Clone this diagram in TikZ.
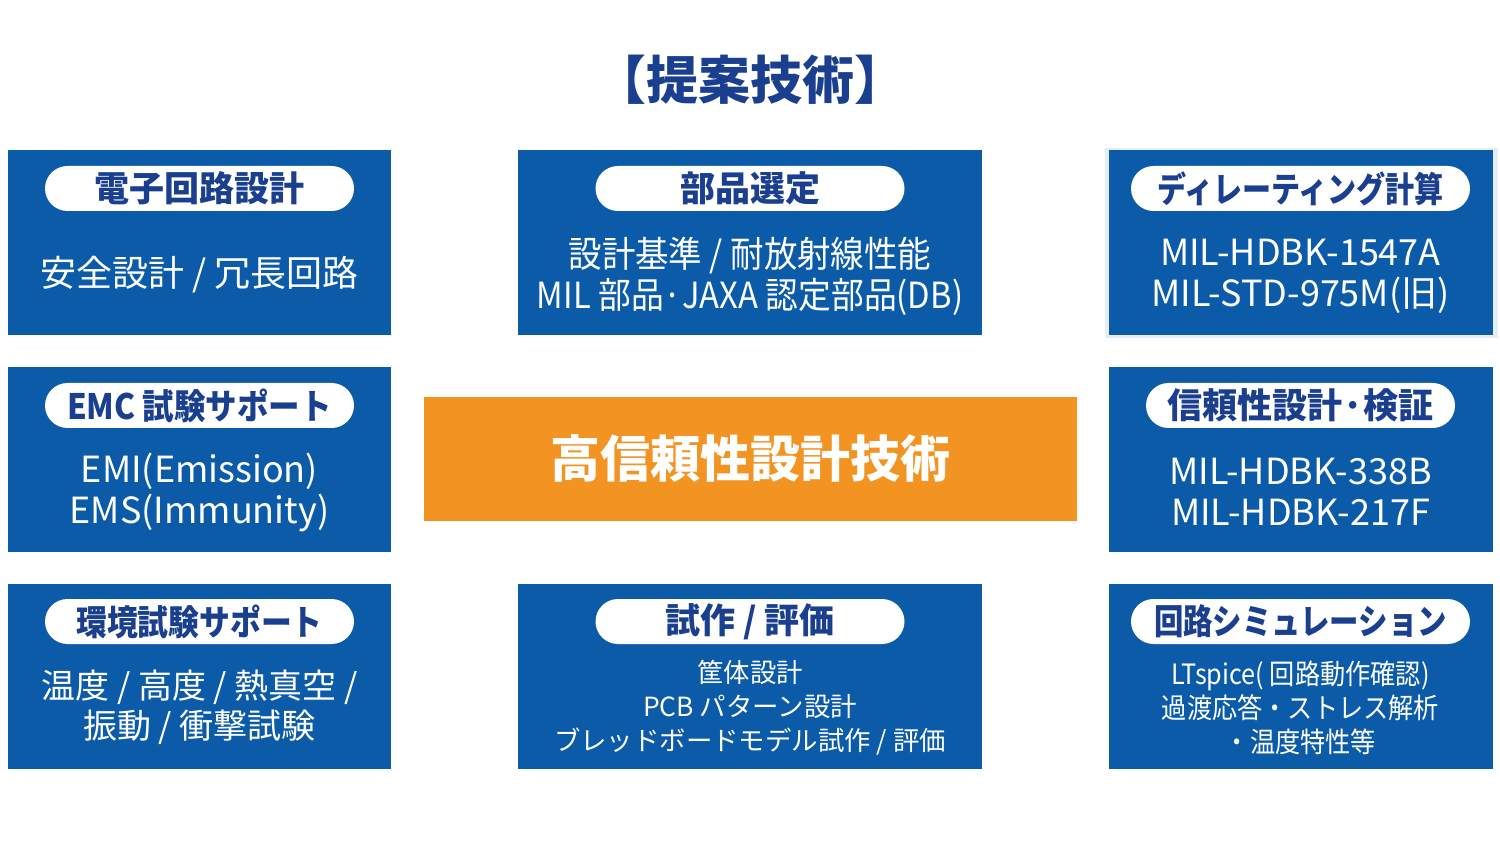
\documentclass[tikz,border=0pt]{standalone}
\usepackage{fontspec}
\setmainfont{Noto Sans CJK JP}
\usetikzlibrary{backgrounds,shadows}
\definecolor{boxblue}{HTML}{0B5BA8}
\definecolor{navy}{HTML}{1B3F8F}
\definecolor{orng}{HTML}{F39322}
\newcommand{\sq}[2]{\scalebox{#1}[1]{#2}}
\begin{document}
\begin{tikzpicture}[x=0.5pt,y=-0.5pt,
  bluebox/.style={fill=boxblue, draw=none, minimum height=92.5pt, inner sep=0pt, anchor=north west},
  pill/.style={fill=white, draw=none, rounded corners=11.25pt, minimum height=22.5pt, minimum width=154.5pt, inner sep=0pt, text=navy, font=\bfseries\fontsize{17.5}{20}\selectfont},
  body/.style={text=white, align=center, inner sep=0pt, font=\fontsize{18}{20.5}\selectfont},
  small/.style={text=white, align=center, inner sep=0pt, font=\fontsize{13.2}{17}\selectfont},
  conn/.style={draw=boxblue, line width=1.5pt},
  glow/.style={drop shadow={shadow xshift=0pt, shadow yshift=0pt, opacity=0.3, fill=boxblue!35, shadow scale=1.025}}
]
\useasboundingbox (0,0) rectangle (1500,844);
\fill[white] (0,0) rectangle (1500,844);

% title
\node[text=navy, font=\bfseries\fontsize{26}{30}\selectfont] (title) at (750,80) {【提案技術】};

% boxes
\node[bluebox, minimum width=191.5pt] (lt) at (8,150) {};
\node[bluebox, minimum width=191.5pt] (lm) at (8,367) {};
\node[bluebox, minimum width=191.5pt] (lb) at (8,584) {};
\node[bluebox, minimum width=232pt] (mt) at (518,150) {};
\node[bluebox, minimum width=232pt] (mb) at (518,584) {};
\node[bluebox, minimum width=192pt, glow] (rt) at (1109,150) {};
\node[bluebox, minimum width=192pt] (rm) at (1109,367) {};
\node[bluebox, minimum width=192pt] (rb) at (1109,584) {};

% center
\node[fill=orng, minimum width=326.5pt, minimum height=62pt, inner sep=0pt, text=white,
      font=\bfseries\fontsize{25}{30}\selectfont] (ctr) at (750.5,459) {高信頼性設計技術};

% connectors
\coordinate (lj) at (457,459);
\coordinate (rj) at (1044,459);
\begin{scope}[on background layer]
\draw[conn] (lt.east) -| (lj) |- (lb.east);
\draw[conn] (lm.east) -- (ctr.west);
\draw[conn] (rt.west) -| (rj) |- (rb.west);
\draw[conn] (rm.west) -- (ctr.east);
\end{scope}

% left top
\node[pill] (p1) at (199.5,188.5) {電子回路設計};
\node[body] (b1) at (199.5,275) {安全設計 / 冗長回路};
% middle top
\node[pill] (p2) at (750,188.5) {部品選定};
\node[body] (b2) at (750,276) {\sq{0.93}{設計基準 / 耐放射線性能}\\\sq{0.91}{MIL 部品·JAXA 認定部品(DB)}};
% right top
\node[pill, minimum width=169.5pt] (p3) at (1300.5,188.5) {\sq{0.83}{ディレーティング計算}};
\node[body] (b3) at (1300.5,276) {MIL-HDBK-1547A\\MIL-STD-975M(旧)};
% left middle
\node[pill] (p4) at (199.5,405.5) {\sq{0.9}{EMC 試験サポート}};
\node[body] (b4) at (199.5,492) {EMI(Emission)\\EMS(Immunity)};
% right middle
\node[pill] (p5) at (1300.5,405.5) {信頼性設計·検証};
\node[body] (b5) at (1300.5,492) {MIL-HDBK-338B\\MIL-HDBK-217F};
% left bottom
\node[pill] (p6) at (199.5,621.5) {\sq{0.88}{環境試験サポート}};
\node[body, font=\fontsize{17}{20}\selectfont] (b6) at (199.5,707) {温度 / 高度 / 熱真空 /\\振動 / 衝撃試験};
% middle bottom
\node[pill] (p7) at (750,621.5) {試作 / 評価};
\node[small] (b7) at (750,708) {筐体設計\\PCB パターン設計\\ブレッドボードモデル試作 / 評価};
% right bottom
\node[pill, minimum width=169.5pt] (p8) at (1300.5,621.5) {\sq{0.84}{回路シミュレーション}};
\node[small, font=\fontsize{14}{17}\selectfont] (b8) at (1300.5,708) {\sq{0.9}{LTspice( 回路動作確認)}\\\sq{0.9}{過渡応答・ストレス解析}\\\sq{0.9}{・温度特性等}};
\end{tikzpicture}
\end{document}
